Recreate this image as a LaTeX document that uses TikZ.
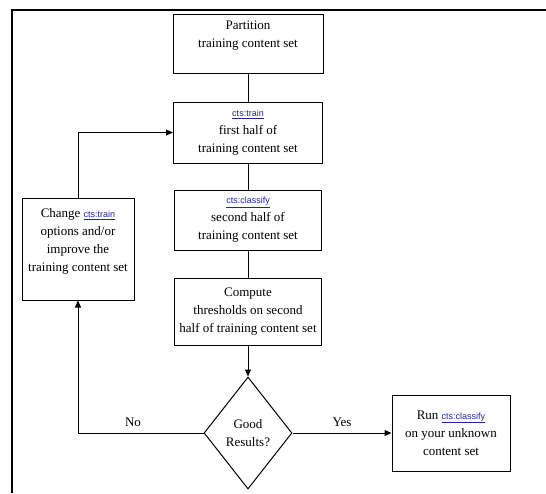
\documentclass[tikz,border=0pt]{standalone}
\usepackage{fontspec}
\setmainfont{Liberation Serif}
\setsansfont{Liberation Sans}
\usetikzlibrary{arrows.meta,shapes.geometric}
\definecolor{linkblue}{RGB}{35,35,160}
\newcommand{\ctslink}[1]{{\sffamily\fontsize{9}{11}\selectfont\color{linkblue}\underline{#1}}}

\begin{document}
\begin{tikzpicture}[x=1pt,y=-1pt,
  box/.style={draw,line width=1pt,align=center,inner sep=1pt,font=\fontsize{13}{18}\selectfont},
  decision/.style={draw,diamond,line width=1pt,align=center,inner sep=0pt,
    minimum width=88pt,minimum height=112pt,font=\fontsize{13}{18}\selectfont},
  flow/.style={line width=1pt},
  arr/.style={flow,-{Triangle[length=7pt,width=6pt]}},
  lbl/.style={font=\fontsize{13}{15}\selectfont}]
\useasboundingbox (0,0) rectangle (546,493);
\draw[line width=2pt] (12,493) -- (12,10) -- (546,10);

\node[box,minimum width=150pt,minimum height=59pt] (part) at (248,43.5) {Partition\\training content set\\~};
\node[box,minimum width=149pt,minimum height=61pt] (train) at (248,132.5) {\ctslink{cts:train}\\first half of\\training content set};
\node[box,minimum width=147pt,minimum height=60pt] (classify) at (248,220) {\ctslink{cts:classify}\\second half of\\training content set};
\node[box,minimum width=147pt,minimum height=67pt] (compute) at (248,312) {Compute\\thresholds on second\\half of training content set};
\node[decision] (good) at (248,433) {Good\\Results?};
\node[box,minimum width=118pt,minimum height=76pt] (run) at (451,433) {Run \ctslink{cts:classify}\\on your unknown\\content set};
\node[box,minimum width=112pt,minimum height=102pt] (change) at (78,249) {Change \ctslink{cts:train}\\options and/or\\improve the\\training content set\\~};

\node[lbl] (no) at (133,422) {No};
\node[lbl] (yes) at (342,422) {Yes};

\draw[flow] (part) -- (train);
\draw[flow] (train) -- (classify);
\draw[flow] (classify) -- (compute);
\draw[arr] (compute) -- (good);
\draw[arr] (good.east) -- (run.west);
\draw[arr] (good.west) -| (change.south);
\draw[arr] (change.north) |- (train.west);
\end{tikzpicture}
\end{document}
